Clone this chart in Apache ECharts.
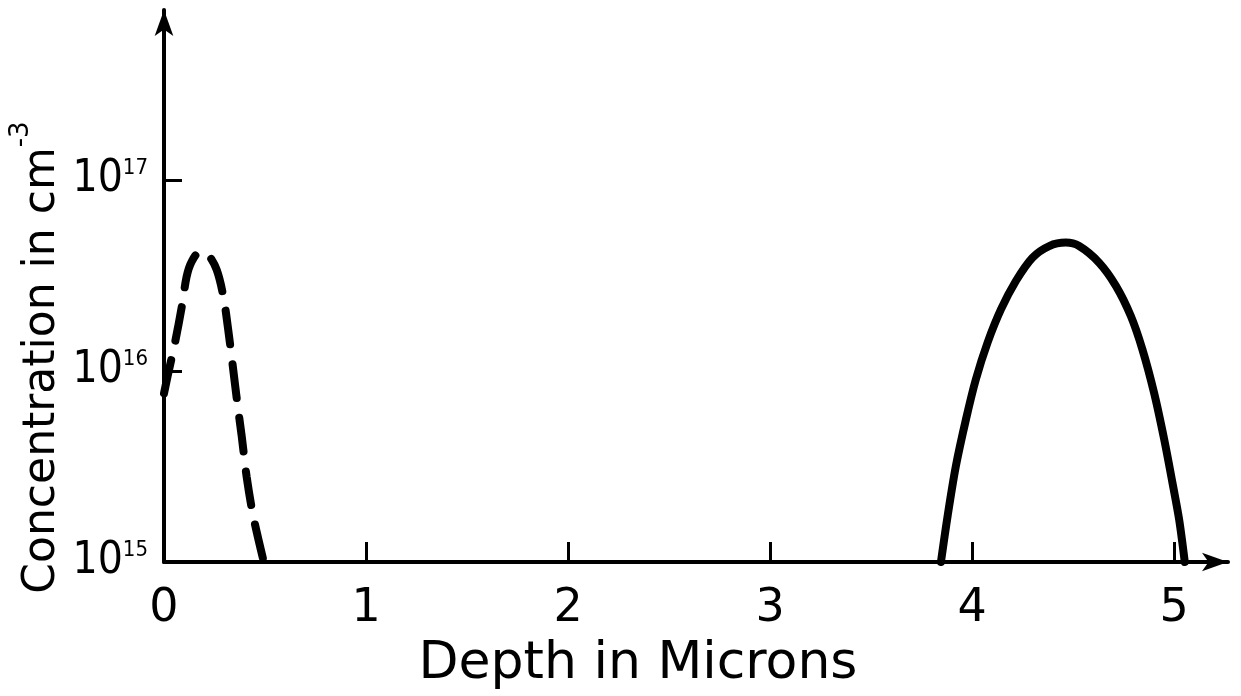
<!DOCTYPE html>
<html>
<head>
<meta charset="utf-8">
<script src="https://cdn.jsdelivr.net/npm/echarts@6/dist/echarts.min.js"></script>
<style>
  html, body { margin: 0; padding: 0; background: #fff; }
  #chart { width: 1241px; height: 696px; }
</style>
</head>
<body>
<div id="chart"></div>
<script>
// Shallow profile (dashed): depth in microns, concentration in cm^-3
const shallowDepth = [0, 0.021, 0.054, 0.088, 0.112, 0.137, 0.178, 0.219, 0.261, 0.294, 0.318, 0.343, 0.363, 0.385, 0.409, 0.442, 0.492];
const shallowConc  = [7.64e15, 9.73e15, 1.40e16, 2.17e16, 3.12e16, 3.74e16, 4.21e16, 4.05e16, 3.38e16, 2.45e16, 1.64e16, 1.01e16, 6.78e15, 4.53e15, 2.80e15, 1.73e15, 1.02e15];

// Deep profile (solid)
const deepDepth = [3.846, 3.879, 3.920, 3.970, 4.019, 4.077, 4.143, 4.217, 4.299, 4.382, 4.464, 4.530, 4.629, 4.712, 4.786, 4.843, 4.901, 4.951, 4.992, 5.025, 5.053];
const deepConc  = [1.0e15, 1.74e15, 3.18e15, 5.59e15, 9.05e15, 1.41e16, 2.10e16, 2.96e16, 3.92e16, 4.51e16, 4.70e16, 4.51e16, 3.69e16, 2.79e16, 1.94e16, 1.30e16, 7.69e15, 4.39e15, 2.60e15, 1.67e15, 1.0e15];

// Axis ticks
const depthTicks = [0, 1, 2, 3, 4, 5];
const concTicks  = [1e15, 1e16, 1e17];

const FONT = 'DejaVu Sans';
const NARROW = "'DejaVu Sans Condensed', 'DejaVu Sans'";
const pairs = (xs, ys) => xs.map((x, i) => [x, ys[i]]);

const chart = echarts.init(document.getElementById('chart'), null, { renderer: 'canvas' });

chart.setOption({
  backgroundColor: '#fff',
  animation: false,
  grid: { left: 164, right: 13, top: 10, bottom: 134, containLabel: false, outerBoundsMode: 'none' },
  xAxis: {
    type: 'value',
    min: 0,
    max: 5.267,
    name: 'Depth in Microns',
    nameLocation: 'middle',
    nameGap: 76,
    nameMoveOverlap: false,
    nameTextStyle: { fontFamily: FONT, fontSize: 52, color: '#000', padding: [0, 116, 0, 0] },
    axisLine: {
      show: true,
      lineStyle: { color: '#000', width: 4 },
      symbol: ['none', 'arrow'],
      symbolSize: [14, 26]
    },
    axisTick: {
      show: true,
      inside: true,
      length: 20,
      lineStyle: { color: '#000', width: 3 },
      customValues: depthTicks.slice(1)
    },
    axisLabel: {
      show: true,
      margin: 24,
      fontFamily: FONT,
      fontSize: 46,
      color: '#000',
      customValues: depthTicks,
      formatter: v => String(v)
    },
    splitLine: { show: false }
  },
  yAxis: {
    type: 'log',
    min: 1e15,
    max: 7.76e17,
    name: '{n|Concentration in cm}{e|-3}',
    nameLocation: 'middle',
    nameRotate: 90,
    nameGap: 86,
    nameMoveOverlap: false,
    nameTextStyle: {
      color: '#000',
      padding: [0, 143, 0, 0],
      rich: {
        n: { fontFamily: FONT, fontSize: 44, lineHeight: 70, color: '#000' },
        e: { fontFamily: FONT, fontSize: 26, lineHeight: 26, verticalAlign: 'top', color: '#000' }
      }
    },
    axisLine: {
      show: true,
      lineStyle: { color: '#000', width: 4 },
      symbol: ['none', 'arrow'],
      symbolSize: [14, 26]
    },
    axisTick: {
      show: true,
      inside: true,
      length: 18,
      lineStyle: { color: '#000', width: 3 },
      customValues: concTicks
    },
    axisLabel: {
      show: true,
      margin: 16,
      customValues: concTicks,
      formatter: v => '{b|10}{s|' + Math.round(Math.log10(v)) + '}',
      rich: {
        b: { fontFamily: NARROW, fontSize: 44, lineHeight: 46, color: '#000' },
        s: { fontFamily: NARROW, fontSize: 22, lineHeight: 22, verticalAlign: 'top', color: '#000' }
      }
    },
    splitLine: { show: false },
    minorTick: { show: false }
  },
  series: [
    {
      type: 'line',
      data: pairs(shallowDepth, shallowConc),
      smooth: 0.3,
      showSymbol: false,
      symbol: 'none',
      lineStyle: { color: '#000', width: 8, type: [34, 20], cap: 'round' }
    },
    {
      type: 'line',
      data: pairs(deepDepth, deepConc),
      smooth: 0.3,
      showSymbol: false,
      symbol: 'none',
      lineStyle: { color: '#000', width: 8, cap: 'round' }
    }
  ]
});
</script>
</body>
</html>
